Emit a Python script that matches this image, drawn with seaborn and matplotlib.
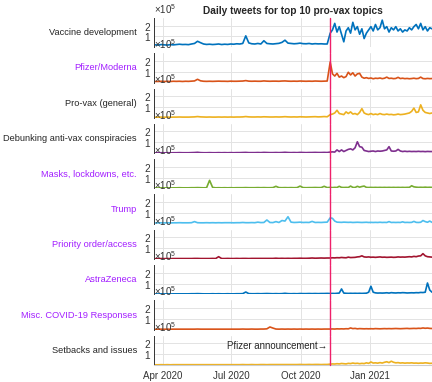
import matplotlib
matplotlib.use("Agg")
import pandas as pd
import matplotlib.pyplot as plt
import matplotlib.dates as mdates
from matplotlib.ticker import ScalarFormatter
import seaborn as sns

# daily tweet counts, in units of 1e5
# first 58 values: every 4 days from 2020-03-22, last 46: every 3 days from 2020-11-09
topics = ["Vaccine development", "Pfizer/Moderna", "Pro-vax (general)",
          "Debunking anti-vax conspiracies", "Masks, lockdowns, etc.", "Trump",
          "Priority order/access", "AstraZeneca", "Misc. COVID-19 Responses",
          "Setbacks and issues"]

vaccine_dev = [0.22, 0.2, 0.25, 0.22, 0.2, 0.24, 0.22, 0.25, 0.28, 0.25,
               0.26, 0.24, 0.3, 0.35, 0.55, 0.42, 0.3, 0.26, 0.28, 0.25,
               0.27, 0.3, 0.25, 0.28, 0.26, 0.3, 0.28, 0.32, 0.3, 0.35,
               1.05, 0.4, 0.32, 0.3, 0.35, 0.3, 0.6, 0.35, 0.32, 0.3,
               0.33, 0.36, 0.45, 0.65, 0.38, 0.35, 0.32, 0.34, 0.38, 0.33,
               0.32, 0.35, 0.3, 0.33, 0.31, 0.32, 0.3, 0.3,
               1.3, 1.6, 2.2, 1.4, 1.9, 1.2, 0.5, 1.5, 1.8, 1.3,
               2.3, 1.6, 1.9, 1.2, 1.7, 0.8, 1.3, 1.6, 1.9, 1.5,
               2.1, 1.6, 1.8, 2.5, 1.7, 1.9, 1.4, 1.8, 1.6, 1.9,
               1.5, 1.7, 1.4, 1.6, 1.5, 1.8, 1.6, 1.9, 2.1, 1.7,
               2.2, 1.6, 1.9, 1.5, 1.8, 1.7]
pfizer_moderna = [0.1, 0.1, 0.12, 0.1, 0.11, 0.1, 0.12, 0.11, 0.12, 0.1,
                  0.12, 0.11, 0.13, 0.15, 0.3, 0.16, 0.12, 0.11, 0.12, 0.11,
                  0.12, 0.13, 0.12, 0.12, 0.11, 0.13, 0.12, 0.12, 0.13, 0.14,
                  0.18, 0.13, 0.12, 0.13, 0.12, 0.12, 0.15, 0.13, 0.12, 0.13,
                  0.13, 0.12, 0.14, 0.15, 0.13, 0.12, 0.13, 0.12, 0.14, 0.13,
                  0.12, 0.13, 0.12, 0.14, 0.13, 0.12, 0.13, 0.14,
                  1.9, 0.8, 0.6, 0.85, 0.5, 0.6, 0.45, 0.55, 0.95, 0.7,
                  0.9, 0.6, 0.8, 0.85, 0.5, 0.4, 0.45, 0.38, 0.42, 0.35,
                  0.4, 0.38, 0.42, 0.36, 0.4, 0.5, 0.38, 0.4, 0.36, 0.38,
                  0.48, 0.37, 0.4, 0.36, 0.38, 0.35, 0.37, 0.4, 0.36, 0.38,
                  0.5, 0.37, 0.35, 0.38, 0.36, 0.37]
pro_vax = [0.06, 0.06, 0.07, 0.06, 0.07, 0.06, 0.07, 0.07, 0.08, 0.07,
           0.07, 0.07, 0.08, 0.09, 0.12, 0.09, 0.08, 0.07, 0.08, 0.07,
           0.07, 0.08, 0.07, 0.08, 0.07, 0.08, 0.07, 0.08, 0.08, 0.09,
           0.12, 0.09, 0.08, 0.08, 0.09, 0.08, 0.1, 0.09, 0.08, 0.08,
           0.09, 0.08, 0.09, 0.11, 0.09, 0.08, 0.09, 0.08, 0.1, 0.09,
           0.08, 0.09, 0.1, 0.11, 0.09, 0.1, 0.12, 0.1,
           0.3, 0.35, 0.45, 0.7, 0.4, 0.35, 0.3, 0.55, 0.4, 0.55,
           0.35, 0.4, 0.3, 0.5, 0.85, 0.45, 0.35, 0.3, 0.4, 0.3,
           0.35, 0.3, 0.4, 0.32, 0.3, 0.35, 0.3, 0.32, 0.28, 0.3,
           0.35, 0.3, 0.32, 0.35, 0.4, 0.45, 0.6, 0.9, 0.5, 0.55,
           1.2, 0.7, 0.5, 0.45, 0.4, 0.45]
debunking = [0.03, 0.03, 0.04, 0.03, 0.04, 0.03, 0.04, 0.04, 0.05, 0.04,
             0.04, 0.04, 0.05, 0.06, 0.08, 0.05, 0.04, 0.04, 0.05, 0.04,
             0.04, 0.05, 0.04, 0.05, 0.04, 0.05, 0.04, 0.05, 0.05, 0.06,
             0.07, 0.05, 0.05, 0.05, 0.06, 0.05, 0.07, 0.06, 0.05, 0.05,
             0.06, 0.05, 0.06, 0.08, 0.06, 0.05, 0.06, 0.05, 0.07, 0.06,
             0.05, 0.06, 0.06, 0.07, 0.06, 0.06, 0.07, 0.06,
             0.1, 0.12, 0.1, 0.3, 0.15, 0.3, 0.15, 0.25, 0.35, 0.4,
             0.3, 0.5, 1.05, 0.6, 0.55, 0.25, 0.2, 0.15, 0.18, 0.2,
             0.15, 0.2, 0.18, 0.2, 0.25, 0.3, 0.6, 0.2, 0.18, 0.2,
             0.35, 0.2, 0.15, 0.18, 0.15, 0.17, 0.15, 0.16, 0.15, 0.17,
             0.15, 0.16, 0.14, 0.16, 0.15, 0.15]
masks = [0.05, 0.05, 0.06, 0.05, 0.06, 0.05, 0.06, 0.06, 0.07, 0.06,
         0.06, 0.06, 0.07, 0.07, 0.08, 0.07, 0.06, 0.07, 0.75, 0.1,
         0.06, 0.07, 0.06, 0.07, 0.06, 0.07, 0.06, 0.07, 0.07, 0.07,
         0.08, 0.07, 0.07, 0.07, 0.08, 0.07, 0.08, 0.07, 0.07, 0.08,
         0.2, 0.08, 0.07, 0.08, 0.07, 0.08, 0.07, 0.08, 0.22, 0.08,
         0.07, 0.08, 0.08, 0.09, 0.08, 0.08, 0.2, 0.08,
         0.1, 0.08, 0.1, 0.09, 0.2, 0.1, 0.09, 0.1, 0.09, 0.22,
         0.1, 0.09, 0.2, 0.12, 0.18, 0.22, 0.1, 0.09, 0.1, 0.09,
         0.1, 0.09, 0.1, 0.09, 0.1, 0.09, 0.1, 0.09, 0.1, 0.09,
         0.1, 0.09, 0.1, 0.09, 0.1, 0.1, 0.25, 0.15, 0.12, 0.1,
         0.11, 0.1, 0.12, 0.1, 0.11, 0.1]
trump = [0.08, 0.08, 0.09, 0.08, 0.09, 0.08, 0.09, 0.09, 0.1, 0.09,
         0.09, 0.09, 0.1, 0.2, 0.1, 0.09, 0.09, 0.1, 0.09, 0.1,
         0.09, 0.1, 0.09, 0.1, 0.1, 0.1, 0.09, 0.1, 0.1, 0.12,
         0.1, 0.1, 0.11, 0.1, 0.15, 0.11, 0.12, 0.35, 0.12, 0.11,
         0.2, 0.12, 0.3, 0.25, 0.65, 0.15, 0.12, 0.13, 0.15, 0.12,
         0.13, 0.12, 0.22, 0.12, 0.13, 0.12, 0.14, 0.15,
         0.55, 0.5, 0.25, 0.15, 0.14, 0.13, 0.15, 0.14, 0.13, 0.14,
         0.12, 0.13, 0.14, 0.13, 0.12, 0.13, 0.14, 0.12, 0.13, 0.12,
         0.13, 0.12, 0.14, 0.12, 0.13, 0.12, 0.2, 0.12, 0.13, 0.12,
         0.13, 0.12, 0.18, 0.12, 0.13, 0.12, 0.13, 0.22, 0.13, 0.12,
         0.14, 0.3, 0.2, 0.14, 0.25, 0.13]
priority = [0.04, 0.04, 0.05, 0.04, 0.05, 0.04, 0.05, 0.05, 0.05, 0.05,
            0.05, 0.05, 0.05, 0.06, 0.06, 0.05, 0.05, 0.05, 0.05, 0.06,
            0.05, 0.22, 0.05, 0.05, 0.06, 0.05, 0.05, 0.06, 0.05, 0.06,
            0.06, 0.05, 0.06, 0.06, 0.06, 0.06, 0.06, 0.06, 0.06, 0.06,
            0.08, 0.06, 0.07, 0.06, 0.07, 0.06, 0.07, 0.07, 0.08, 0.07,
            0.07, 0.08, 0.1, 0.08, 0.09, 0.1, 0.09, 0.1,
            0.1, 0.12, 0.11, 0.13, 0.12, 0.15, 0.13, 0.12, 0.18, 0.14,
            0.15, 0.16, 0.2, 0.22, 0.3, 0.2, 0.18, 0.2, 0.17, 0.18,
            0.16, 0.18, 0.2, 0.17, 0.18, 0.16, 0.17, 0.18, 0.16, 0.17,
            0.2, 0.18, 0.19, 0.18, 0.2, 0.22, 0.2, 0.25, 0.22, 0.28,
            0.3, 0.5, 0.3, 0.22, 0.2, 0.18]
astrazeneca = [0.04, 0.04, 0.05, 0.04, 0.05, 0.04, 0.05, 0.05, 0.05, 0.05,
               0.05, 0.05, 0.06, 0.06, 0.07, 0.06, 0.05, 0.05, 0.05, 0.06,
               0.05, 0.06, 0.05, 0.05, 0.06, 0.05, 0.05, 0.06, 0.06, 0.07,
               0.22, 0.07, 0.06, 0.06, 0.07, 0.06, 0.07, 0.08, 0.07, 0.06,
               0.07, 0.06, 0.07, 0.1, 0.07, 0.06, 0.07, 0.06, 0.08, 0.07,
               0.07, 0.08, 0.07, 0.08, 0.07, 0.08, 0.08, 0.09,
               0.08, 0.09, 0.08, 0.1, 0.12, 0.5, 0.12, 0.1, 0.09, 0.1,
               0.09, 0.1, 0.09, 0.1, 0.09, 0.1, 0.11, 0.2, 0.75, 0.2,
               0.14, 0.12, 0.13, 0.12, 0.13, 0.15, 0.12, 0.16, 0.14, 0.13,
               0.15, 0.14, 0.16, 0.15, 0.13, 0.14, 0.15, 0.14, 0.16, 0.15,
               0.18, 0.17, 0.2, 1.05, 0.4, 0.2]
misc = [0.04, 0.04, 0.05, 0.04, 0.05, 0.04, 0.05, 0.05, 0.05, 0.05,
        0.05, 0.05, 0.05, 0.05, 0.06, 0.05, 0.05, 0.05, 0.05, 0.05,
        0.05, 0.05, 0.05, 0.05, 0.05, 0.05, 0.05, 0.05, 0.05, 0.06,
        0.05, 0.05, 0.06, 0.05, 0.05, 0.06, 0.06, 0.08, 0.25, 0.15,
        0.06, 0.05, 0.06, 0.05, 0.06, 0.05, 0.06, 0.05, 0.06, 0.05,
        0.06, 0.05, 0.06, 0.05, 0.06, 0.05, 0.06, 0.06,
        0.06, 0.07, 0.06, 0.08, 0.07, 0.08, 0.07, 0.09, 0.08, 0.16,
        0.1, 0.12, 0.08, 0.1, 0.09, 0.08, 0.09, 0.08, 0.09, 0.08,
        0.1, 0.09, 0.08, 0.09, 0.1, 0.09, 0.1, 0.09, 0.1, 0.11,
        0.1, 0.09, 0.1, 0.11, 0.12, 0.1, 0.11, 0.12, 0.11, 0.13,
        0.12, 0.16, 0.13, 0.15, 0.12, 0.11]
setbacks = [0.02, 0.02, 0.03, 0.02, 0.03, 0.02, 0.03, 0.03, 0.03, 0.03,
            0.03, 0.03, 0.03, 0.03, 0.03, 0.03, 0.03, 0.03, 0.03, 0.03,
            0.03, 0.03, 0.03, 0.03, 0.03, 0.03, 0.03, 0.03, 0.03, 0.04,
            0.03, 0.03, 0.04, 0.03, 0.03, 0.04, 0.04, 0.03, 0.04, 0.04,
            0.04, 0.04, 0.04, 0.04, 0.04, 0.04, 0.04, 0.04, 0.05, 0.04,
            0.04, 0.05, 0.04, 0.05, 0.05, 0.04, 0.05, 0.05,
            0.08, 0.1, 0.09, 0.12, 0.1, 0.14, 0.12, 0.1, 0.15, 0.13,
            0.18, 0.14, 0.16, 0.12, 0.15, 0.13, 0.2, 0.15, 0.28, 0.18,
            0.2, 0.17, 0.22, 0.18, 0.25, 0.3, 0.22, 0.35, 0.25, 0.2,
            0.22, 0.18, 0.2, 0.17, 0.19, 0.18, 0.2, 0.17, 0.18, 0.16,
            0.18, 0.17, 0.2, 0.18, 0.15, 0.16]

series = [vaccine_dev, pfizer_moderna, pro_vax, debunking, masks, trump,
          priority, astrazeneca, misc, setbacks]

# MATLAB default line colours, cycling
line_colors = ["#0072BD", "#D95319", "#EDB120", "#7E2F8E", "#77AC30",
               "#4DBEEE", "#A2142F", "#0072BD", "#D95319", "#EDB120"]
purple_labels = {"Pfizer/Moderna", "Masks, lockdowns, etc.", "Trump",
                 "Priority order/access", "AstraZeneca", "Misc. COVID-19 Responses"}

pfizer_day = pd.Timestamp("2020-11-09")
dates = pd.date_range("2020-03-22", periods=58, freq="4D").append(
    pd.date_range("2020-11-09", periods=46, freq="3D"))

rows = []
for topic, vals in zip(topics, series):
    for d, v in zip(dates, vals):
        rows.append({"date": d, "topic": topic, "tweets": v * 1e5})
df = pd.DataFrame(rows)

sns.set_style("white")
plt.rcParams["font.family"] = ["Liberation Sans", "DejaVu Sans"]
plt.rcParams["mathtext.fontset"] = "custom"
plt.rcParams["mathtext.rm"] = "Liberation Sans"
plt.rcParams["mathtext.it"] = "Liberation Sans"

fig, axes = plt.subplots(10, 1, figsize=(4.32, 3.82), dpi=100, sharex=True)
fig.subplots_adjust(left=0.356, right=1.0, top=0.953, bottom=0.0445, hspace=0.205)

xticks = pd.to_datetime(["2020-04-01", "2020-07-01", "2020-10-01", "2021-01-01"])

for i, (ax, topic) in enumerate(zip(axes, topics)):
    sns.lineplot(data=df[df["topic"] == topic], x="date", y="tweets",
                 color=line_colors[i], lw=1.2, ax=ax)
    ax.set_ylim(0, 2.7e5)
    ax.set_yticks([1e5, 2e5])
    fmt = ScalarFormatter(useMathText=True)
    fmt.set_powerlimits((0, 0))
    ax.yaxis.set_major_formatter(fmt)
    ax.yaxis.get_offset_text().set_fontsize(7)
    ax.yaxis.get_offset_text().set_color("#333333")
    ax.set_xlim(pd.Timestamp("2020-03-20"), pd.Timestamp("2021-03-24"))
    ax.set_xticks(xticks)
    ax.grid(True, color="#e3e3e3", lw=0.7)
    for side in ["top", "right", "bottom"]:
        ax.spines[side].set_visible(False)
    ax.spines["left"].set_color("#333333")
    ax.spines["left"].set_linewidth(0.7)
    ax.tick_params(axis="y", direction="in", length=3, width=0.6,
                   labelsize=7.2, pad=2, colors="#333333")
    ax.set_xlabel("")
    ax.set_ylabel(topic, rotation=0, ha="right", va="center", fontsize=6.7,
                  color="#a31fff" if topic in purple_labels else "#262626")
    ax.yaxis.set_label_coords(-0.06, 0.5)
    last = i == len(topics) - 1
    ax.axvline(pfizer_day, ymin=0 if last else -0.21, ymax=1,
               color="#ef1f6a", lw=1.0, clip_on=False, zorder=5)
    if last:
        ax.spines["bottom"].set_visible(True)
        ax.spines["bottom"].set_color("#cccccc")
        ax.tick_params(axis="x", direction="in", length=3, width=0.6,
                       labelsize=7, pad=4, colors="#333333")
        ax.xaxis.set_major_formatter(mdates.DateFormatter("%b %Y"))
        ax.text(pfizer_day - pd.Timedelta(days=4), 1.75e5, "Pfizer announcement→",
                ha="right", va="center", fontsize=6.9, color="#262626")
    else:
        ax.tick_params(axis="x", length=0, labelbottom=False)

axes[0].set_title("Daily tweets for top 10 pro-vax topics", fontsize=7.3,
                  fontweight="bold", pad=3)

fig.savefig("out.png", dpi=100)
